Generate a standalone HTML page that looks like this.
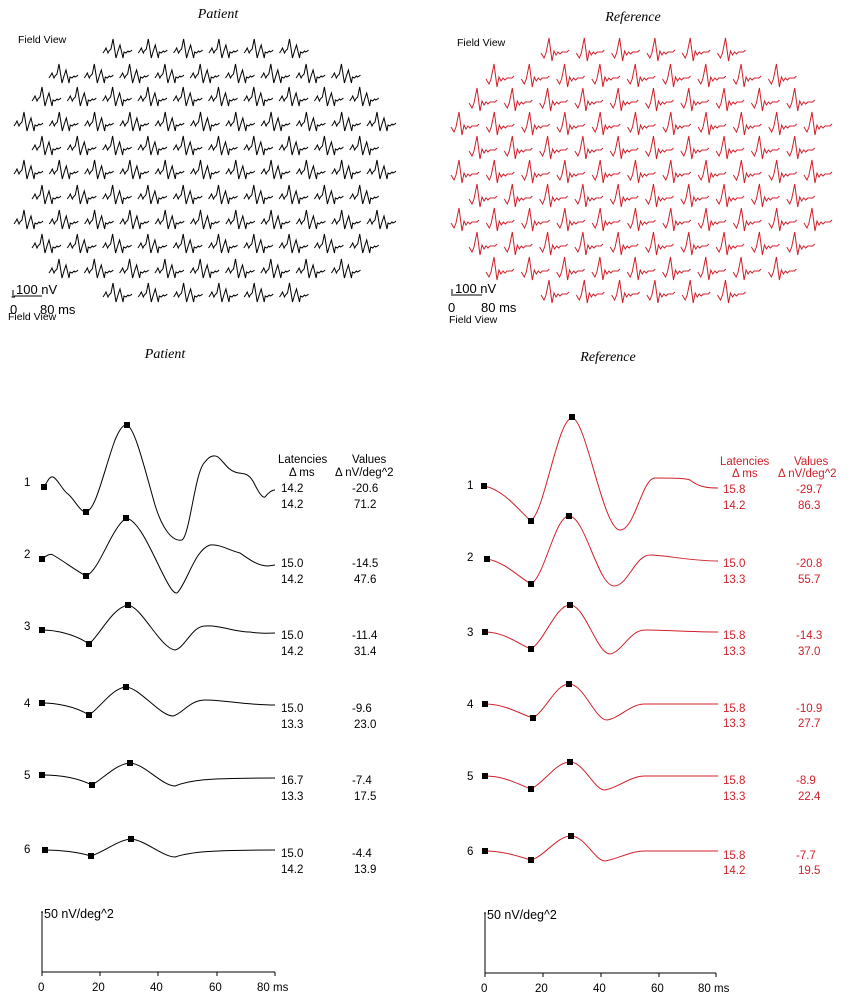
<!DOCTYPE html>
<html><head><meta charset="utf-8"><style>
html,body{margin:0;padding:0;background:#fff}
svg{display:block}
text{font-family:"Liberation Sans",sans-serif;font-size:11.5px}
.it{font-family:"Liberation Serif",serif;font-style:italic;font-size:14px}
.r{fill:#d0202a}
</style></head><body>
<svg width="854" height="1004" viewBox="0 0 854 1004" xmlns="http://www.w3.org/2000/svg">
<defs>
<path id="pw" d="M0,1 L2,-2 L3,-4 L5,1 L6,-1 L8,-3 L10,-13 L13,6 L15,-1 L17,-7 L20,6 L21,0 L23,1 L25,-1 L26,0 L28,-1 L29,-2" fill="none" stroke="#000" stroke-width="1"/>
<path id="rw" d="M0,0 L3,5 L5,0 L8,-15 L11,8 L13,-2 L15,2 L17,-1 L19,1 L21,-1 L23,-1 L26,-1 L28,-3" fill="none" stroke="#d0202a" stroke-width="1"/>
<g id="p11"><use href="#pw" x="0"/><use href="#pw" x="35.3"/><use href="#pw" x="70.6"/><use href="#pw" x="105.9"/><use href="#pw" x="141.2"/><use href="#pw" x="176.5"/><use href="#pw" x="211.8"/><use href="#pw" x="247.1"/><use href="#pw" x="282.4"/><use href="#pw" x="317.7"/><use href="#pw" x="353"/></g>
<g id="p10"><use href="#pw" x="0"/><use href="#pw" x="35.3"/><use href="#pw" x="70.6"/><use href="#pw" x="105.9"/><use href="#pw" x="141.2"/><use href="#pw" x="176.5"/><use href="#pw" x="211.8"/><use href="#pw" x="247.1"/><use href="#pw" x="282.4"/><use href="#pw" x="317.7"/></g>
<g id="p9"><use href="#pw" x="0"/><use href="#pw" x="35.3"/><use href="#pw" x="70.6"/><use href="#pw" x="105.9"/><use href="#pw" x="141.2"/><use href="#pw" x="176.5"/><use href="#pw" x="211.8"/><use href="#pw" x="247.1"/><use href="#pw" x="282.4"/></g>
<g id="p6"><use href="#pw" x="0"/><use href="#pw" x="35.3"/><use href="#pw" x="70.6"/><use href="#pw" x="105.9"/><use href="#pw" x="141.2"/><use href="#pw" x="176.5"/></g>
<g id="r11"><use href="#rw" x="0"/><use href="#rw" x="35.3"/><use href="#rw" x="70.6"/><use href="#rw" x="105.9"/><use href="#rw" x="141.2"/><use href="#rw" x="176.5"/><use href="#rw" x="211.8"/><use href="#rw" x="247.1"/><use href="#rw" x="282.4"/><use href="#rw" x="317.7"/><use href="#rw" x="353"/></g>
<g id="r10"><use href="#rw" x="0"/><use href="#rw" x="35.3"/><use href="#rw" x="70.6"/><use href="#rw" x="105.9"/><use href="#rw" x="141.2"/><use href="#rw" x="176.5"/><use href="#rw" x="211.8"/><use href="#rw" x="247.1"/><use href="#rw" x="282.4"/><use href="#rw" x="317.7"/></g>
<g id="r9"><use href="#rw" x="0"/><use href="#rw" x="35.3"/><use href="#rw" x="70.6"/><use href="#rw" x="105.9"/><use href="#rw" x="141.2"/><use href="#rw" x="176.5"/><use href="#rw" x="211.8"/><use href="#rw" x="247.1"/><use href="#rw" x="282.4"/></g>
<g id="r6"><use href="#rw" x="0"/><use href="#rw" x="35.3"/><use href="#rw" x="70.6"/><use href="#rw" x="105.9"/><use href="#rw" x="141.2"/><use href="#rw" x="176.5"/></g>
</defs>

<text class="it" x="218" y="18" text-anchor="middle">Patient</text>
<text class="it" x="633" y="21" text-anchor="middle">Reference</text>
<text x="18" y="43" style="font-size:10.5px">Field View</text>
<text x="457" y="46" style="font-size:10.5px">Field View</text>

<use href="#p6" x="103" y="52"/><use href="#p9" x="49" y="77"/><use href="#p10" x="32" y="100"/><use href="#p11" x="14" y="125"/><use href="#p10" x="32" y="149"/><use href="#p11" x="14" y="173"/><use href="#p10" x="32" y="198"/><use href="#p11" x="14" y="223"/><use href="#p10" x="32" y="247"/><use href="#p9" x="49" y="272"/><use href="#p6" x="103" y="296"/>

<use href="#r6" x="541" y="53"/><use href="#r9" x="486" y="79"/><use href="#r10" x="469" y="103"/><use href="#r11" x="451" y="127"/><use href="#r10" x="469" y="151"/><use href="#r11" x="451" y="175"/><use href="#r10" x="469" y="199"/><use href="#r11" x="451" y="223"/><use href="#r10" x="469" y="247"/><use href="#r9" x="486" y="272"/><use href="#r6" x="541" y="295"/>

<g stroke="#000" stroke-width="1"><line x1="13" y1="290" x2="13" y2="297"/><line x1="11.5" y1="297" x2="15" y2="297"/><line x1="14" y1="296" x2="42" y2="296"/>
<line x1="452" y1="289" x2="452" y2="296"/><line x1="453" y1="295" x2="482" y2="295"/></g>
<text x="16" y="294" style="font-size:13px">100 nV</text>
<text x="10" y="314" style="font-size:13px">0</text><text x="40" y="314" style="font-size:13px">80 ms</text>
<text x="8" y="320" style="font-size:10.5px">Field View</text>
<text x="455" y="293" style="font-size:13px">100 nV</text>
<text x="448" y="312" style="font-size:13px">0</text><text x="481" y="312" style="font-size:13px">80 ms</text>
<text x="449" y="323" style="font-size:10.5px">Field View</text>

<text class="it" x="165" y="358" text-anchor="middle">Patient</text>
<text class="it" x="608" y="361" text-anchor="middle">Reference</text>

<g fill="none" stroke="#000" stroke-width="1">
<path d="M44,487 C48,480 50,476 53,477 C58,479 62,490 68,494 C75,500 80,512 86,512 C96,510 104,470 115,440 C120,428 124,424 127,425 C135,428 145,470 155,505 C162,528 172,542 182,540 C190,535 195,470 205,462 C210,455 215,455 218,457 C224,462 228,470 235,472 C242,475 248,470 255,485 C260,495 263,498 265,497 C268,493 272,490 275,490"/>
<path d="M42,559 C46,556 50,553 53,555 C62,560 75,570 86,576 C100,570 110,530 126,518 C140,520 155,560 165,578 C172,592 176,595 178,592 C188,580 195,550 210,545 C220,544 228,550 240,553 C250,560 258,566 268,566 L275,565"/>
<path d="M42,630 C55,630 75,634 89,644 C100,635 112,608 128,605 C142,607 160,648 175,650 C185,648 192,626 205,626 C220,625 235,632 250,632 C260,634 268,633 275,633"/>
<path d="M42,703 C55,703 75,706 89,715 C100,708 112,688 126,687 C140,688 160,716 173,716 C182,714 190,700 205,700 C225,700 245,705 275,705"/>
<path d="M42,775 C60,775 78,778 92,785 C104,778 116,764 130,763 C145,764 162,786 175,786 C190,780 205,778 275,778"/>
<path d="M45,850 C60,850 78,852 91,856 C104,852 118,840 131,839 C145,840 163,857 175,857 C190,852 210,850 275,850"/>
</g>
<g fill="none" stroke="#d0202a" stroke-width="1">
<path d="M484,486 C505,490 520,512 531,521 C545,510 558,418 572,418 C586,418 603,530 620,530 C635,530 642,478 655,478 C670,478 685,478 690,480 C700,488 710,488 718,488"/>
<path d="M487,559 C505,562 520,578 531,584 C545,576 555,516 569,516 C585,516 598,586 614,586 C628,586 635,555 650,555 C665,555 690,561 718,561"/>
<path d="M485,632 C505,632 520,645 531,649 C545,640 556,605 570,605 C585,605 597,654 610,654 C622,652 630,630 645,630 C665,630 690,632 718,632"/>
<path d="M485,704 C505,704 520,714 533,718 C546,710 556,684 569,684 C584,684 595,720 607,720 C620,718 630,704 645,704 L718,704"/>
<path d="M485,776 C505,776 520,785 531,789 C545,782 556,762 570,762 C584,762 594,790 605,790 C618,788 630,776 645,776 L718,776"/>
<path d="M485,851 C505,851 520,857 531,860 C545,856 557,836 571,836 C585,836 595,861 605,861 C618,859 630,851 645,851 L718,851"/>
</g>
<g fill="#000">
<rect x="41" y="484" width="6" height="6"/><rect x="83" y="509" width="6" height="6"/><rect x="124" y="422" width="6" height="6"/>
<rect x="39" y="556" width="6" height="6"/><rect x="83" y="573" width="6" height="6"/><rect x="123" y="515" width="6" height="6"/>
<rect x="39" y="627" width="6" height="6"/><rect x="86" y="641" width="6" height="6"/><rect x="125" y="602" width="6" height="6"/>
<rect x="39" y="700" width="6" height="6"/><rect x="86" y="712" width="6" height="6"/><rect x="123" y="684" width="6" height="6"/>
<rect x="39" y="772" width="6" height="6"/><rect x="89" y="782" width="6" height="6"/><rect x="127" y="760" width="6" height="6"/>
<rect x="42" y="847" width="6" height="6"/><rect x="88" y="853" width="6" height="6"/><rect x="128" y="836" width="6" height="6"/>
<rect x="481" y="483" width="6" height="6"/><rect x="528" y="518" width="6" height="6"/><rect x="569" y="414" width="6" height="6"/>
<rect x="484" y="556" width="6" height="6"/><rect x="528" y="581" width="6" height="6"/><rect x="566" y="513" width="6" height="6"/>
<rect x="482" y="629" width="6" height="6"/><rect x="528" y="646" width="6" height="6"/><rect x="567" y="602" width="6" height="6"/>
<rect x="482" y="701" width="6" height="6"/><rect x="530" y="715" width="6" height="6"/><rect x="566" y="681" width="6" height="6"/>
<rect x="482" y="773" width="6" height="6"/><rect x="528" y="786" width="6" height="6"/><rect x="567" y="759" width="6" height="6"/>
<rect x="482" y="848" width="6" height="6"/><rect x="528" y="857" width="6" height="6"/><rect x="568" y="833" width="6" height="6"/>
</g>
<g>
<text x="24" y="486">1</text><text x="24" y="558">2</text><text x="24" y="630">3</text><text x="24" y="707">4</text><text x="24" y="779">5</text><text x="24" y="853">6</text>
<text x="467" y="489">1</text><text x="467" y="561">2</text><text x="467" y="636">3</text><text x="467" y="708">4</text><text x="467" y="780">5</text><text x="467" y="855">6</text>
</g>
<g>
<text x="278" y="463">Latencies</text><text x="289" y="476">Δ ms</text><text x="352" y="463">Values</text><text x="335" y="476">Δ nV/deg^2</text>
<text x="281" y="492">14.2</text><text x="281" y="508">14.2</text><text x="352" y="492">-20.6</text><text x="354" y="508">71.2</text>
<text x="281" y="567">15.0</text><text x="281" y="583">14.2</text><text x="352" y="567">-14.5</text><text x="354" y="583">47.6</text>
<text x="281" y="639">15.0</text><text x="281" y="655">14.2</text><text x="352" y="639">-11.4</text><text x="354" y="655">31.4</text>
<text x="281" y="712">15.0</text><text x="281" y="728">13.3</text><text x="352" y="712">-9.6</text><text x="354" y="728">23.0</text>
<text x="281" y="784">16.7</text><text x="281" y="800">13.3</text><text x="352" y="784">-7.4</text><text x="354" y="800">17.5</text>
<text x="281" y="857">15.0</text><text x="281" y="873">14.2</text><text x="352" y="857">-4.4</text><text x="354" y="873">13.9</text>
</g>
<g class="r">
<text x="720" y="465">Latencies</text><text x="732" y="477">Δ ms</text><text x="794" y="465">Values</text><text x="778" y="477">Δ nV/deg^2</text>
<text x="723" y="493">15.8</text><text x="723" y="509">14.2</text><text x="796" y="493">-29.7</text><text x="798" y="509">86.3</text>
<text x="723" y="567">15.0</text><text x="723" y="583">13.3</text><text x="796" y="567">-20.8</text><text x="798" y="583">55.7</text>
<text x="723" y="639">15.8</text><text x="723" y="655">13.3</text><text x="796" y="639">-14.3</text><text x="798" y="655">37.0</text>
<text x="723" y="712">15.8</text><text x="723" y="727">13.3</text><text x="796" y="712">-10.9</text><text x="798" y="727">27.7</text>
<text x="723" y="784">15.8</text><text x="723" y="800">13.3</text><text x="796" y="784">-8.9</text><text x="798" y="800">22.4</text>
<text x="723" y="859">15.8</text><text x="723" y="874">14.2</text><text x="796" y="859">-7.7</text><text x="798" y="874">19.5</text>
</g>

<g stroke="#000" stroke-width="1" fill="none">
<path d="M42,912 V972 H275"/><path d="M41,912 H43"/>
<path d="M42,972 v4 M100,972 v4 M158,972 v4 M217,972 v4 M275,972 v4"/>
<path d="M485,913 V973 H716"/><path d="M484,913 H486"/>
<path d="M485,973 v4 M543,973 v4 M601,973 v4 M659,973 v4 M716,973 v4"/>
</g>
<text x="44" y="918" style="font-size:12.5px">50 nV/deg^2</text>
<text x="487" y="919" style="font-size:12.5px">50 nV/deg^2</text>
<g style="font-size:13px">
<text x="38" y="991">0</text><text x="92" y="991">20</text><text x="150" y="991">40</text><text x="209" y="991">60</text><text x="257" y="991">80 ms</text>
<text x="481" y="992">0</text><text x="535" y="992">20</text><text x="593" y="992">40</text><text x="651" y="992">60</text><text x="698" y="992">80 ms</text>
</g>
</svg>
</body></html>
